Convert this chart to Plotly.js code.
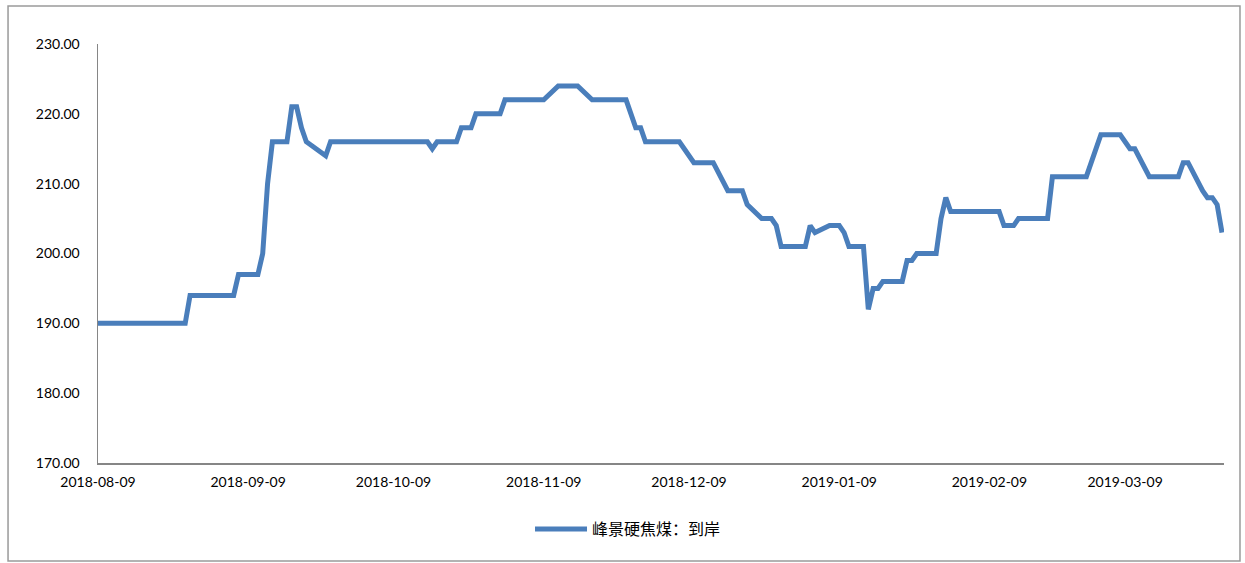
<!DOCTYPE html>
<html>
<head>
<meta charset="utf-8">
<script src="https://cdn.plot.ly/plotly-3.0.1.min.js"></script>
<style>
  html, body { margin: 0; padding: 0; background: #ffffff; }
  #chart { width: 1245px; height: 563px; }
</style>
</head>
<body>
<div id="chart"></div>
<script>
// Series: 峰景硬焦煤：到岸 (vertices)
const dates = [
  '2018-08-09','2018-08-27','2018-08-28','2018-09-06','2018-09-07','2018-09-11',
  '2018-09-12','2018-09-13','2018-09-14','2018-09-17','2018-09-18','2018-09-19',
  '2018-09-20','2018-09-21','2018-09-25','2018-09-26','2018-10-16','2018-10-17',
  '2018-10-18','2018-10-22','2018-10-23','2018-10-25','2018-10-26','2018-10-31',
  '2018-11-01','2018-11-09','2018-11-12','2018-11-16','2018-11-19','2018-11-26',
  '2018-11-28','2018-11-29','2018-11-30','2018-12-07','2018-12-10','2018-12-14',
  '2018-12-17','2018-12-20','2018-12-21','2018-12-24','2018-12-26','2018-12-27',
  '2018-12-28','2019-01-02','2019-01-03','2019-01-04','2019-01-07','2019-01-09',
  '2019-01-10','2019-01-11','2019-01-14','2019-01-15','2019-01-16','2019-01-17',
  '2019-01-18','2019-01-22','2019-01-23','2019-01-24','2019-01-25','2019-01-29',
  '2019-01-30','2019-01-31','2019-02-01','2019-02-11','2019-02-12','2019-02-14',
  '2019-02-15','2019-02-21','2019-02-22','2019-03-01','2019-03-04','2019-03-08',
  '2019-03-10','2019-03-11','2019-03-14','2019-03-20','2019-03-21','2019-03-22',
  '2019-03-25','2019-03-26','2019-03-27','2019-03-28','2019-03-29'
];
const values = [
  190,190,194,194,197,197,
  200,210,216,216,221,221,
  218,216,214,216,216,215,
  216,216,218,218,220,220,
  222,222,224,224,222,222,
  218,218,216,216,213,213,
  209,209,207,205,205,204,
  201,201,204,203,204,204,
  203,201,201,192,195,195,
  196,196,199,199,200,200,
  205,208,206,206,204,204,
  205,205,211,211,217,217,
  215,215,211,211,213,213,
  209,208,208,207,203
];
const seriesName = '峰景硬焦煤：到岸';
const xTickVals = ['2018-08-09','2018-09-09','2018-10-09','2018-11-09','2018-12-09','2019-01-09','2019-02-09','2019-03-09'];
const xTickText = ['2018-08-09','2018-09-09','2018-10-09','2018-11-09','2018-12-09','2019-01-09','2019-02-09','2019-03-09'];
const xRange = ['2018-08-09', '2019-03-29 10:00'];
const yRange = [170, 230];

const trace = {
  type: 'scatter',
  mode: 'lines',
  x: dates,
  y: values,
  name: seriesName,
  line: { color: '#4A7EBB', width: 5, shape: 'linear' },
  hoverinfo: 'x+y'
};

const layout = {
  width: 1245,
  height: 563,
  margin: { l: 98, r: 21, t: 44, b: 100, pad: 0 },
  paper_bgcolor: '#ffffff',
  plot_bgcolor: '#ffffff',
  font: { family: 'Lato, "Liberation Sans", sans-serif', size: 14, color: '#000000' },
  showlegend: true,
  legend: {
    orientation: 'h',
    x: 0.4707, xanchor: 'center',
    y: -0.1575, yanchor: 'middle',
    itemwidth: 52,
    font: { family: '"Noto Sans CJK SC", sans-serif', size: 16, color: '#000000' },
    bgcolor: 'rgba(0,0,0,0)'
  },
  xaxis: {
    type: 'date',
    range: xRange,
    tickmode: 'array',
    tickvals: xTickVals,
    ticktext: xTickText,
    showgrid: false,
    zeroline: false,
    showline: true,
    linecolor: '#868686',
    linewidth: 1.5,
    ticks: '',
    ticklabelstandoff: 6,
    tickfont: { family: 'Lato, "Liberation Sans", sans-serif', size: 14, color: '#000000' }
  },
  yaxis: {
    range: yRange,
    tickmode: 'linear',
    tick0: 170,
    dtick: 10,
    tickformat: '.2f',
    showgrid: false,
    zeroline: false,
    showline: true,
    linecolor: '#868686',
    linewidth: 1.5,
    ticks: '',
    ticklabelstandoff: 14,
    tickfont: { family: 'Lato, "Liberation Sans", sans-serif', size: 14, color: '#000000' }
  },
  shapes: [{
    type: 'rect',
    xref: 'paper', yref: 'paper',
    x0: -0.0799, x1: 1.0142,
    y0: -0.2339, y1: 1.0907,
    line: { color: '#9a9a9a', width: 1.5 },
    fillcolor: 'rgba(0,0,0,0)',
    layer: 'below'
  }]
};

Plotly.newPlot('chart', [trace], layout, { displayModeBar: false, staticPlot: true });
</script>
</body>
</html>
